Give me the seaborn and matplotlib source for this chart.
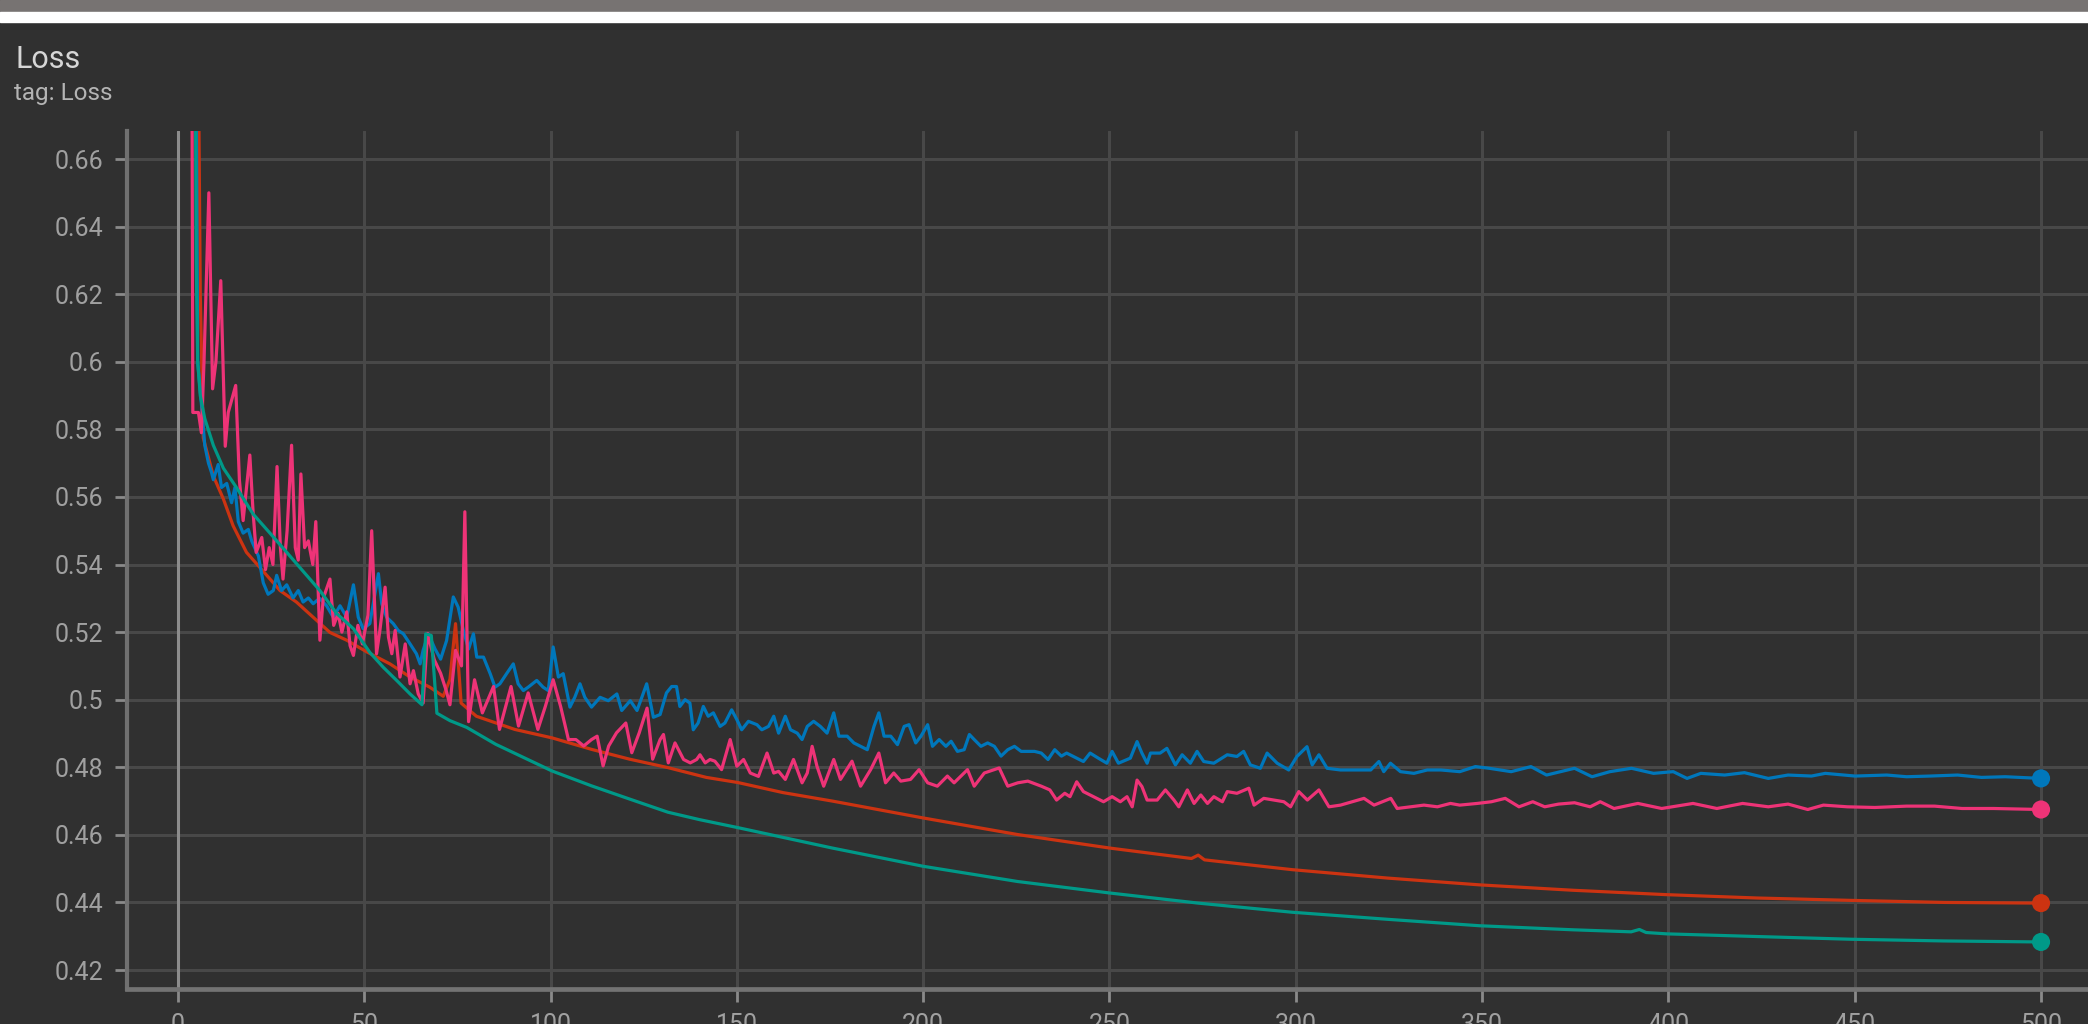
import matplotlib
matplotlib.use("Agg")
import matplotlib.pyplot as plt
from matplotlib.patches import Rectangle
import numpy as np
import pandas as pd
import seaborn as sns

# ---- run data: training step vs loss ------------------------------------
blue_steps = [4.6, 5.3, 6.5, 7.2, 8.2, 9.0, 9.5, 10.8, 11.7, 13.1, 14.4, 15.3, 16.2, 17.5, 18.9, 19.8,
              21.6, 22.9, 24.2, 25.6, 26.5, 27.8, 29.2, 30.9, 32.3, 33.6, 35.0, 36.3, 38.0, 39.9, 41.7,
              43.5, 45.3, 47.1, 48.4, 49.7, 51.5, 53.8, 54.7, 56.0, 57.8, 59.1, 60.5, 62.3, 64.0, 65.0,
              65.8, 67.2, 69.0, 70.5, 72.1, 73.9, 75.2, 76.6, 78.0, 79.3, 80.2, 82.0, 83.8, 85.1, 86.4,
              88.2, 90.0, 91.3, 92.7, 94.0, 96.3, 98.0, 99.4, 100.7, 102.1, 103.4, 105.2, 106.5, 107.9,
              109.2, 111.0, 113.3, 115.5, 117.8, 119.1, 121.4, 123.2, 124.5, 125.8, 127.6, 129.4, 131.1,
              132.5, 133.8, 134.7, 136.1, 137.4, 138.3, 139.6, 141.0, 142.3, 143.7, 145.5, 146.8, 148.6,
              150.0, 151.3, 153.1, 155.4, 156.7, 158.5, 159.9, 161.2, 163.0, 164.4, 166.2, 167.5, 168.9,
              170.6, 172.4, 174.2, 176.0, 177.4, 179.6, 181.4, 183.2, 185.0, 186.8, 188.1, 189.5, 191.3,
              193.1, 194.9, 196.2, 198.0, 199.4, 201.2, 202.5, 204.3, 206.1, 207.5, 209.2, 211.0, 212.4,
              213.7, 215.5, 217.3, 219.1, 220.9, 222.7, 224.5, 226.3, 228.1, 229.9, 231.7, 233.5, 235.3,
              237.1, 238.5, 240.3, 243.0, 244.8, 247.0, 249.3, 250.7, 252.4, 255.6, 257.4, 258.7, 260.1,
              261.0, 263.6, 265.4, 267.7, 269.5, 271.7, 273.5, 275.3, 278.0, 281.6, 284.2, 286.0, 287.8,
              290.5, 292.3, 295.0, 298.1, 300.3, 303.0, 304.4, 306.2, 308.4, 312.0, 316.5, 320.1, 322.3,
              323.6, 325.4, 328.1, 331.7, 335.3, 338.9, 344.0, 348.2, 351.9, 357.8, 363.1, 367.3, 374.8,
              379.5, 384.3, 390.1, 396.0, 401.3, 405.0, 408.7, 415.1, 420.4, 426.8, 432.1, 438.4, 442.1,
              450.1, 458.6, 463.9, 470.2, 477.6, 484.0, 490.4, 500.0]
blue_loss = [0.745, 0.600, 0.585, 0.5753, 0.5700, 0.5673, 0.5651, 0.5696, 0.5628, 0.5640, 0.5583, 0.5628,
             0.5527, 0.5493, 0.5504, 0.5470, 0.5425, 0.5346, 0.5312, 0.5323, 0.5368, 0.5323, 0.5340, 0.5301,
             0.5323, 0.5289, 0.5301, 0.5284, 0.5300, 0.5278, 0.5244, 0.5278, 0.5244, 0.5340, 0.5244, 0.5210,
             0.5225, 0.5373, 0.5284, 0.5244, 0.5225, 0.5205, 0.5195, 0.5165, 0.5136, 0.5106, 0.5146, 0.5195,
             0.5150, 0.5120, 0.5175, 0.5304, 0.5274, 0.5205, 0.5150, 0.5195, 0.5126, 0.5126, 0.5077, 0.5037,
             0.5047, 0.5077, 0.5106, 0.5047, 0.5027, 0.5037, 0.5057, 0.5037, 0.5027, 0.5156, 0.5067, 0.5077,
             0.4978, 0.5007, 0.5047, 0.5007, 0.4978, 0.5007, 0.4997, 0.5017, 0.4968, 0.4997, 0.4968, 0.5007,
             0.5047, 0.4948, 0.4956, 0.5020, 0.5039, 0.5039, 0.4980, 0.5000, 0.4990, 0.4911, 0.4931, 0.4980,
             0.4951, 0.4961, 0.4921, 0.4931, 0.4970, 0.4941, 0.4911, 0.4936, 0.4926, 0.4911, 0.4921, 0.4951,
             0.4901, 0.4951, 0.4911, 0.4901, 0.4882, 0.4921, 0.4936, 0.4921, 0.4901, 0.4961, 0.4892, 0.4892,
             0.4872, 0.4862, 0.4852, 0.4921, 0.4961, 0.4892, 0.4892, 0.4867, 0.4921, 0.4926, 0.4872, 0.4892,
             0.4926, 0.4862, 0.4882, 0.4862, 0.4877, 0.4847, 0.4852, 0.4897, 0.4882, 0.4862, 0.4872, 0.4862,
             0.4833, 0.4852, 0.4862, 0.4847, 0.4847, 0.4847, 0.4842, 0.4823, 0.4852, 0.4833, 0.4842, 0.4832,
             0.4817, 0.4842, 0.4827, 0.4812, 0.4847, 0.4812, 0.4827, 0.4876, 0.4842, 0.4812, 0.4842, 0.4842,
             0.4856, 0.4807, 0.4837, 0.4812, 0.4847, 0.4817, 0.4812, 0.4837, 0.4832, 0.4847, 0.4807, 0.4797,
             0.4842, 0.4812, 0.4792, 0.4832, 0.4861, 0.4807, 0.4837, 0.4797, 0.4792, 0.4792, 0.4792, 0.4817,
             0.4787, 0.4812, 0.4787, 0.4782, 0.4792, 0.4792, 0.4787, 0.4802, 0.4797, 0.4787, 0.4802, 0.4777,
             0.4797, 0.4772, 0.4787, 0.4797, 0.4782, 0.4787, 0.4767, 0.4782, 0.4777, 0.4784, 0.4767, 0.4777,
             0.4774, 0.4782, 0.4774, 0.4777, 0.4772, 0.4774, 0.4777, 0.4770, 0.4772, 0.4767]

pink_steps = [3.6, 4.0, 5.5, 6.3, 7.0, 8.3, 9.3, 10.2, 11.5, 12.7, 13.5, 15.5, 16.5, 17.5, 19.3, 20.2, 21.0,
              22.5, 23.5, 24.5, 25.5, 26.6, 27.5, 28.2, 29.3, 30.5, 31.5, 32.3, 33.0, 34.0, 35.0, 36.2,
              37.0, 38.1, 39.0, 40.8, 41.8, 43.0, 44.0, 45.3, 46.2, 47.1, 48.3, 49.5, 51.0, 52.0, 53.3,
              54.2, 55.6, 56.5, 57.4, 58.3, 59.6, 61.0, 62.3, 63.2, 64.5, 65.8, 67.0, 68.8, 70.5, 72.0,
              73.0, 74.5, 76.1, 77.0, 78.0, 79.6, 81.7, 84.7, 86.3, 89.4, 91.4, 94.0, 96.6, 98.6, 100.7,
              102.7, 104.8, 106.8, 108.9, 111.0, 112.5, 114.1, 115.6, 117.7, 120.2, 121.8, 123.8, 125.9,
              127.4, 129.4, 130.3, 131.6, 133.4, 135.7, 137.5, 139.2, 140.1, 141.5, 142.8, 144.1, 145.9,
              148.2, 150.0, 151.8, 153.6, 155.8, 158.1, 159.9, 161.2, 163.0, 165.2, 167.5, 168.9, 170.2,
              171.5, 173.3, 176.0, 177.8, 180.9, 183.2, 185.9, 188.1, 189.9, 192.1, 194.0, 196.6, 198.9,
              201.2, 203.8, 206.5, 208.3, 211.9, 213.7, 216.4, 220.4, 222.7, 225.4, 228.1, 231.7, 234.0,
              235.8, 238.0, 239.4, 241.2, 243.0, 245.7, 248.4, 250.7, 252.9, 254.7, 256.1, 257.4, 258.7,
              260.1, 262.8, 265.0, 267.3, 268.6, 270.9, 272.7, 274.5, 276.3, 278.0, 280.3, 281.6, 284.2,
              287.4, 288.8, 291.4, 294.1, 296.8, 298.6, 300.8, 303.1, 306.2, 308.9, 312.0, 315.2, 318.3,
              321.0, 325.5, 327.2, 330.8, 334.4, 338.0, 341.5, 344.0, 348.7, 352.5, 356.2, 359.9, 363.6,
              366.8, 370.5, 374.8, 379.0, 381.7, 385.4, 391.8, 398.2, 406.6, 413.0, 419.9, 426.8, 432.1,
              437.4, 441.6, 448.0, 455.4, 463.9, 471.4, 478.8, 487.3, 500.0]
pink_loss = [0.760, 0.585, 0.585, 0.579, 0.600, 0.650, 0.592, 0.600, 0.624, 0.575, 0.585, 0.593, 0.565,
             0.553, 0.5724, 0.555, 0.5436, 0.548, 0.5385, 0.545, 0.540, 0.569, 0.545, 0.5357, 0.550, 0.5753,
             0.545, 0.5413, 0.5668, 0.545, 0.547, 0.540, 0.5527, 0.5176, 0.530, 0.5357, 0.522, 0.5255, 0.520,
             0.526, 0.516, 0.5131, 0.522, 0.5165, 0.525, 0.550, 0.5136, 0.5205, 0.5333, 0.5185, 0.5136,
             0.5205, 0.5067, 0.5165, 0.5047, 0.5086, 0.5017, 0.4990, 0.5196, 0.5118, 0.5078, 0.5027, 0.4985,
             0.5146, 0.5100, 0.5556, 0.4935, 0.5059, 0.4961, 0.5039, 0.4912, 0.5039, 0.4922, 0.5020, 0.4912,
             0.4980, 0.5059, 0.4980, 0.4882, 0.4882, 0.4863, 0.4882, 0.4892, 0.4804, 0.4863, 0.4902, 0.4931,
             0.4843, 0.4902, 0.4975, 0.4824, 0.4882, 0.4897, 0.4813, 0.4872, 0.4823, 0.4813, 0.4823, 0.4837,
             0.4813, 0.4823, 0.4818, 0.4793, 0.4882, 0.4803, 0.4823, 0.4783, 0.4773, 0.4842, 0.4783, 0.4788,
             0.4764, 0.4823, 0.4754, 0.4783, 0.4862, 0.4803, 0.4744, 0.4823, 0.4764, 0.4818, 0.4744, 0.4793,
             0.4842, 0.4754, 0.4783, 0.4759, 0.4764, 0.4793, 0.4754, 0.4744, 0.4774, 0.4754, 0.4793, 0.4744,
             0.4783, 0.4798, 0.4744, 0.4754, 0.4759, 0.4744, 0.4733, 0.4703, 0.4723, 0.4713, 0.4757, 0.4728,
             0.4713, 0.4698, 0.4713, 0.4698, 0.4713, 0.4683, 0.4762, 0.4743, 0.4703, 0.4703, 0.4733, 0.4703,
             0.4683, 0.4733, 0.4693, 0.4718, 0.4693, 0.4713, 0.4698, 0.4728, 0.4723, 0.4738, 0.4688, 0.4708,
             0.4703, 0.4698, 0.4683, 0.4728, 0.4703, 0.4733, 0.4683, 0.4688, 0.4698, 0.4708, 0.4688, 0.4708,
             0.4678, 0.4683, 0.4688, 0.4683, 0.4693, 0.4688, 0.4693, 0.4698, 0.4708, 0.4683, 0.4698, 0.4683,
             0.4691, 0.4695, 0.4683, 0.4698, 0.4678, 0.4693, 0.4678, 0.4693, 0.4678, 0.4693, 0.4683, 0.4691,
             0.4675, 0.4688, 0.4683, 0.4681, 0.4685, 0.4685, 0.4678, 0.4678, 0.4675]

red_steps = [5.0, 6.0, 6.8, 9.5, 12.2, 14.8, 18.4, 22.9, 27.4, 31.8, 36.3, 40.8, 45.3, 50.6, 56.9, 62.3,
             67.6, 71.2, 73.0, 74.5, 76.0, 80.1, 90.4, 100.4, 111.0, 121.2, 131.5, 141.8, 150.2, 162.4,
             175.6, 200.0, 225.3, 250.0, 272.0, 273.8, 275.5, 299.0, 324.7, 349.3, 374.4, 399.5, 424.0,
             449.2, 474.0, 500.0]
red_loss = [0.760, 0.620, 0.5775, 0.5662, 0.5594, 0.5515, 0.5436, 0.5380, 0.5323, 0.5289, 0.5244, 0.5199,
            0.5176, 0.5142, 0.5106, 0.5067, 0.5037, 0.5010, 0.5060, 0.5225, 0.4990, 0.4951, 0.4912, 0.4887,
            0.4853, 0.4824, 0.4799, 0.4770, 0.4755, 0.4725, 0.4700, 0.4650, 0.4601, 0.4561, 0.4530, 0.4540,
            0.4526, 0.4497, 0.4472, 0.4452, 0.4436, 0.4423, 0.4413, 0.4406, 0.4400, 0.4398]

teal_steps = [4.4, 4.9, 5.3, 6.0, 7.2, 9.5, 12.2, 15.7, 20.2, 24.7, 29.2, 33.6, 38.1, 42.6, 47.1, 51.5,
              55.1, 58.7, 62.3, 65.5, 66.5, 68.0, 69.5, 73.0, 77.5, 85.3, 100.4, 111.0, 121.2, 131.5,
              140.0, 150.0, 175.6, 200.0, 225.3, 250.0, 273.8, 299.0, 324.7, 349.3, 374.4, 390.0, 392.2,
              394.0, 399.5, 424.0, 449.2, 474.0, 500.0]
teal_loss = [0.760, 0.630, 0.600, 0.590, 0.5832, 0.5753, 0.5685, 0.5628, 0.5549, 0.5493, 0.5436, 0.5380,
             0.5323, 0.5255, 0.5210, 0.5140, 0.5096, 0.5057, 0.5017, 0.4985, 0.5195, 0.5190, 0.4960, 0.4938,
             0.4918, 0.4868, 0.4789, 0.4745, 0.4706, 0.4667, 0.4645, 0.4622, 0.4561, 0.4507, 0.4462, 0.4428,
             0.4398, 0.4371, 0.4350, 0.4331, 0.4319, 0.4313, 0.4320, 0.4311, 0.4307, 0.4299, 0.4291, 0.4286,
             0.4283]

x_ticks = [0, 50, 100, 150, 200, 250, 300, 350, 400, 450, 500]
y_ticks = [0.42, 0.44, 0.46, 0.48, 0.50, 0.52, 0.54, 0.56, 0.58, 0.60, 0.62, 0.64, 0.66]
y_tick_labels = ["0.42", "0.44", "0.46", "0.48", "0.5", "0.52", "0.54", "0.56", "0.58", "0.6",
                 "0.62", "0.64", "0.66"]

run_order = ["red", "blue", "pink", "teal"]
palette = {"red": "#cc3311", "blue": "#0077bb", "pink": "#ee3377", "teal": "#009988"}

series = {
    "red": (red_steps, red_loss),
    "blue": (blue_steps, blue_loss),
    "pink": (pink_steps, pink_loss),
    "teal": (teal_steps, teal_loss),
}
df = pd.concat(
    [pd.DataFrame({"run": name, "step": s, "loss": v}) for name, (s, v) in series.items()],
    ignore_index=True,
)
last = df.groupby("run", sort=False).tail(1)

# ---- theme -----------------------------------------------------------------
BG = "#303030"
sns.set_theme(style="darkgrid", rc={
    "axes.facecolor": BG,
    "figure.facecolor": BG,
    "grid.color": "#484848",
    "grid.linewidth": 2.2,
    "axes.edgecolor": "#737373",
})
plt.rcParams["font.family"] = ["Roboto", "DejaVu Sans"]

W, H = 2088, 1024
fig = plt.figure(figsize=(W / 100, H / 100), dpi=100)

# browser chrome strips above the card
fig.patches.append(Rectangle((0, 1 - 12 / H), 1, 12 / H, transform=fig.transFigure,
                             color="#777372", zorder=0))
fig.patches.append(Rectangle((0, 1 - 22 / H), 1, 10 / H, transform=fig.transFigure,
                             color="#ffffff", zorder=0))

ax_left, ax_right, ax_top, ax_bottom = 126.5, W, 131, 989
ax = fig.add_axes([ax_left / W, 1 - ax_bottom / H, (ax_right - ax_left) / W, (ax_bottom - ax_top) / H])
ax.set_axisbelow(True)

ax.axvline(0, color="#8c8c8c", lw=2.2, zorder=1)

sns.lineplot(data=df, x="step", y="loss", hue="run", hue_order=run_order, palette=palette,
             estimator=None, sort=False, linewidth=2.3, legend=False, ax=ax, zorder=3)
sns.scatterplot(data=last, x="step", y="loss", hue="run", hue_order=run_order, palette=palette,
                s=170, linewidth=0, legend=False, ax=ax, zorder=4, clip_on=False)

ax.set_xlim(-13.8, 512.6)
ax.set_ylim(0.41438, 0.6683)
ax.set_xticks(x_ticks)
ax.set_xticklabels([str(t) for t in x_ticks])
ax.set_yticks(y_ticks)
ax.set_yticklabels(y_tick_labels)
ax.set_xlabel("")
ax.set_ylabel("")
ax.grid(True, color="#484848", lw=2.2)

ax.tick_params(axis="both", which="major", colors="#8a8a8a", labelcolor="#a0a0a0",
               labelsize=18, length=9, width=2.0, pad=8, left=True, bottom=True)

for side in ("top", "right"):
    ax.spines[side].set_visible(False)
ax.spines["left"].set_color("#707070")
ax.spines["left"].set_linewidth(3.0)
ax.spines["bottom"].set_color("#737373")
ax.spines["bottom"].set_linewidth(3.4)

fig.text(15 / W, 1 - 68 / H, "Loss", fontsize=22, color="#d6d6d6", va="baseline", ha="left")
fig.text(14 / W, 1 - 100 / H, "tag: Loss", fontsize=17.5, color="#b4b4b4", va="baseline", ha="left")

fig.savefig("out.png", dpi=100, facecolor=fig.get_facecolor())
